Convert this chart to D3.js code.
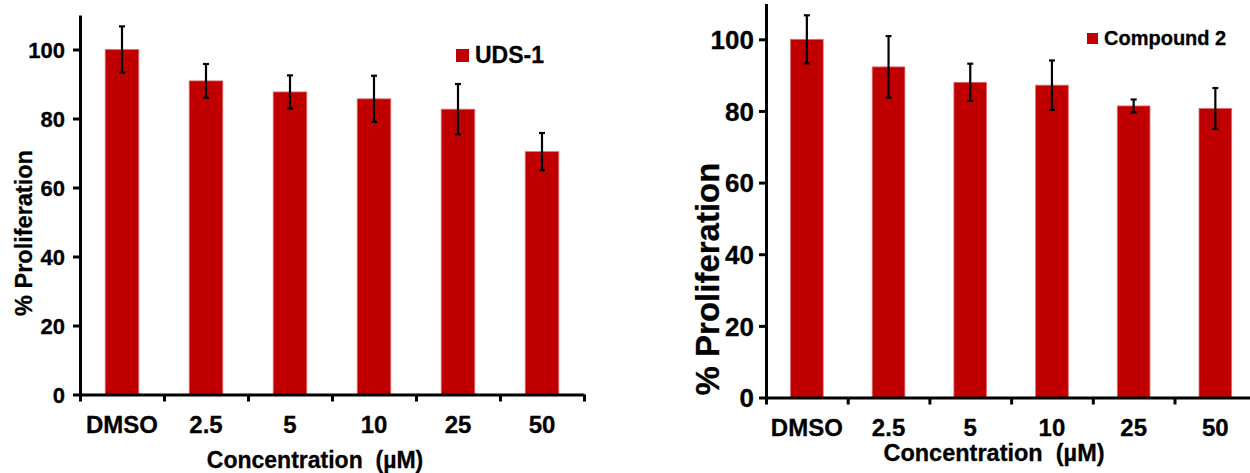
<!DOCTYPE html>
<html>
<head>
<meta charset="utf-8">
<script src="https://cdn.jsdelivr.net/npm/d3@7"></script>
<style>
  html, body { margin: 0; padding: 0; background: #fff; }
  svg { display: block; }
  text { font-family: "Liberation Sans", Arial, Helvetica, sans-serif; font-weight: bold; fill: #000; stroke: #000; stroke-width: 0.3px; }
</style>
</head>
<body>
<svg id="chart" width="1250" height="473"></svg>
<script>
// Concentration groups shared by both panels
const categories = ["DMSO", "2.5", "5", "10", "25", "50"];
const yTicks = [0, 20, 40, 60, 80, 100];

// UDS-1 proliferation (% of DMSO) with error
const udsMean = [100, 90.9, 87.7, 85.7, 82.7, 70.4];
const udsErr  = [6.7, 4.9, 4.8, 6.7, 7.3, 5.4];

// Compound 2 proliferation (% of DMSO) with error
const cmpMean = [100, 92.3, 88.0, 87.2, 81.4, 80.7];
const cmpErr  = [6.7, 8.6, 5.2, 6.9, 1.8, 5.7];

const BAR = "#c00000";
const svg = d3.select("#chart");

function drawPanel(opt) {
  const g = svg.append("g");
  const n = categories.length;
  const x1 = opt.x0 + opt.step * n;

  const x = d3.scaleBand().domain(categories).range([opt.x0, x1])
    .paddingInner(0.6).paddingOuter(0.3);
  const xEdge = d3.scaleLinear().domain([0, n]).range([opt.x0, x1]);
  const y = d3.scaleLinear().domain([0, 110]).range([opt.yBase, opt.yTop]);

  const rows = categories.map((c, i) => ({ c, v: opt.mean[i], e: opt.err[i] }));

  // bars
  g.selectAll("rect.bar").data(rows).join("rect")
    .attr("class", "bar")
    .attr("x", d => x(d.c))
    .attr("width", x.bandwidth())
    .attr("y", d => y(d.v))
    .attr("height", d => y(0) - y(d.v))
    .attr("fill", BAR)
    .attr("stroke", "#e07070")
    .attr("stroke-width", 0.8);

  // error bars
  const cap = 3;
  const eb = g.selectAll("g.err").data(rows).join("g").attr("class", "err")
    .attr("stroke", "#000").attr("stroke-width", 2.2);
  eb.append("line")
    .attr("x1", d => x(d.c) + x.bandwidth() / 2).attr("x2", d => x(d.c) + x.bandwidth() / 2)
    .attr("y1", d => y(d.v + d.e)).attr("y2", d => y(d.v - d.e));
  eb.append("line")
    .attr("x1", d => x(d.c) + x.bandwidth() / 2 - cap).attr("x2", d => x(d.c) + x.bandwidth() / 2 + cap)
    .attr("y1", d => y(d.v + d.e)).attr("y2", d => y(d.v + d.e));
  eb.append("line")
    .attr("x1", d => x(d.c) + x.bandwidth() / 2 - cap).attr("x2", d => x(d.c) + x.bandwidth() / 2 + cap)
    .attr("y1", d => y(d.v - d.e)).attr("y2", d => y(d.v - d.e));

  // y axis
  const ya = g.append("g").attr("transform", `translate(${opt.x0},0)`)
    .call(d3.axisLeft(y).tickValues(yTicks).tickSize(7).tickSizeOuter(0).tickPadding(opt.yPad));
  ya.select(".domain").attr("stroke-width", 3);
  ya.selectAll(".tick line").attr("stroke-width", 3);
  ya.selectAll(".tick text").style("font-size", opt.yFont + "px").attr("dy", "0.36em");

  // x axis: ticks between categories
  const xa = g.append("g").attr("transform", `translate(0,${opt.yBase})`)
    .call(d3.axisBottom(xEdge).tickValues(d3.range(n + 1)).tickFormat("").tickSize(7).tickSizeOuter(0));
  xa.select(".domain").attr("stroke-width", 3);
  xa.selectAll(".tick line").attr("stroke-width", 3);

  // category labels, centred on bars
  g.selectAll("text.cat").data(categories).join("text")
    .attr("class", "cat")
    .attr("x", d => x(d) + x.bandwidth() / 2)
    .attr("y", opt.catY)
    .attr("text-anchor", "middle")
    .style("font-size", opt.catFont + "px")
    .text(d => d);

  // axis titles
  g.append("text")
    .attr("x", opt.xTitleX).attr("y", opt.xTitleY)
    .attr("text-anchor", "middle")
    .style("font-size", opt.xTitleFont + "px")
    .text("Concentration\u00a0 (\u00b5M)");
  g.append("text")
    .attr("transform", `translate(${opt.yTitleX},${opt.yTitleY}) rotate(-90)`)
    .attr("text-anchor", "middle")
    .style("font-size", opt.yTitleFont + "px")
    .text("% Proliferation");

  // legend
  g.append("rect")
    .attr("x", opt.legX).attr("y", opt.legY)
    .attr("width", opt.legSq).attr("height", opt.legSq)
    .attr("fill", BAR);
  g.append("text")
    .attr("x", opt.legX + opt.legSq + 6).attr("y", opt.legY + opt.legSq + 1)
    .style("font-size", opt.legFont + "px")
    .text(opt.name);
}

drawPanel({
  name: "UDS-1", mean: udsMean, err: udsErr,
  x0: 80, step: 84, yBase: 394.5, yTop: 15,
  yFont: 22, yPad: 8, catFont: 24, catY: 433,
  xTitleX: 315, xTitleY: 468, xTitleFont: 23,
  yTitleX: 32, yTitleY: 233, yTitleFont: 23.5,
  legX: 456, legY: 49, legSq: 13, legFont: 23
});

drawPanel({
  name: "Compound 2", mean: cmpMean, err: cmpErr,
  x0: 766, step: 81.7, yBase: 397.5, yTop: 3.5,
  yFont: 26, yPad: 5, catFont: 24, catY: 436,
  xTitleX: 994, xTitleY: 461, xTitleFont: 23.5,
  yTitleX: 719, yTitleY: 279, yTitleFont: 33,
  legX: 1087, legY: 33, legSq: 11, legFont: 20
});
</script>
</body>
</html>
